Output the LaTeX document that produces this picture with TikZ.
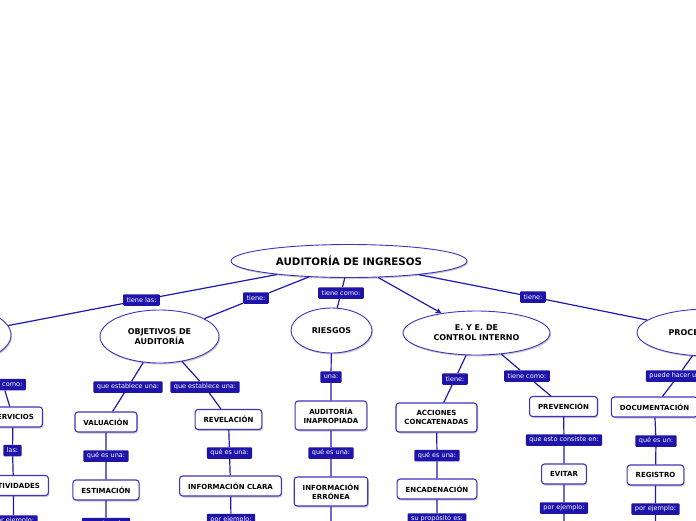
\documentclass[tikz,border=0pt]{standalone}
\usepackage{fontspec}
\setmainfont{DejaVu Sans}
\usetikzlibrary{shapes.geometric,shadows,arrows.meta}
\definecolor{lblue}{RGB}{30,20,170}
\definecolor{lineblue}{RGB}{32,24,176}
\definecolor{bordblue}{RGB}{62,52,192}
\tikzset{
  topell/.style={ellipse, draw=bordblue, line width=0.9pt, fill=white, inner sep=0pt,
    font=\fontsize{8}{10}\selectfont\bfseries, align=center,
    drop shadow={shadow xshift=1pt, shadow yshift=-1.5pt, fill=black!35, opacity=0.6}},
  cbox/.style={rectangle, rounded corners=3pt, draw=bordblue, line width=1.1pt, fill=white,
    inner xsep=8.5pt, inner ysep=0pt, minimum height=20pt,
    font=\fontsize{7}{9}\selectfont\bfseries, align=center,
    drop shadow={shadow xshift=1pt, shadow yshift=-1.5pt, fill=black!35, opacity=0.6}},
  lbl/.style={rectangle, rounded corners=1pt, fill=lblue, text=white, inner xsep=3.5pt,
    inner ysep=0pt, minimum height=11.5pt, font=\fontsize{6.5}{7}\selectfont},
  conn/.style={draw=lineblue, line width=1.2pt},
}
\begin{document}
\begin{tikzpicture}[x=1pt,y=-1pt]
\useasboundingbox (0,0) rectangle (696,520);
\clip (0,0) rectangle (696,520);
% top-level
\node[topell, minimum width=236pt, minimum height=33pt, font=\fontsize{10.3}{12}\selectfont\bfseries] (root) at (349,261) {AUDITORÍA DE INGRESOS};
\node[topell, minimum width=104pt, minimum height=54pt] (left) at (-41,335) {};
\node[topell, minimum width=119pt, minimum height=53pt] (obj) at (159.5,336.5) {OBJETIVOS DE\\AUDITORÍA};
\node[topell, minimum width=81pt, minimum height=45pt] (ries) at (331.5,330.5) {RIESGOS};
\node[topell, minimum width=147pt, minimum height=44pt] (eye) at (476.5,333) {E. Y E. DE\\CONTROL INTERNO};
\node[topell, minimum width=144pt, minimum height=47pt] (proc) at (709,332.5) {PROCEDIMIENTOS};
% level-1 labels
\node[lbl] (l1) at (141.5,300) {tiene las:};
\node[lbl] (l2) at (256,298) {tiene:};
\node[lbl] (l3) at (341,293) {tiene como:};
\node[lbl] (l5) at (533,297) {tiene:};
\draw[conn] (root) -- (l1) -- (left);
\draw[conn] (root) -- (l2) -- (obj);
\draw[conn] (root) -- (l3) -- (ries);
\draw[conn, -{Stealth[length=6pt,width=6pt]}] (root) -- (eye);
\draw[conn] (root) -- (l5) -- (proc);
% left column
\node[lbl] (a1) at (3,384.5) {tiene como:};
\node[cbox] (serv) at (13,417) {SERVICIOS};
\node[lbl] (a2) at (12.5,450.5) {las:};
\node[cbox] (act) at (13.5,485.5) {ACTIVIDADES};
\node[lbl] (a3) at (13.5,521) {por ejemplo:};
\draw[conn] (left) -- (a1) -- (serv) -- (a2) -- (act) -- (a3);
% valuacion column
\node[lbl] (b1) at (128,387) {que establece una:};
\node[cbox] (val) at (106,422) {VALUACIÓN};
\node[lbl] (b2) at (106,456) {qué es una:};
\node[cbox] (est) at (106,490) {ESTIMACIÓN};
\node[lbl] (b3) at (106,523.5) {por ejemplo:};
\draw[conn] (obj) -- (b1) -- (val) -- (b2) -- (est) -- (b3);
% revelacion column
\node[lbl] (c1) at (205,387) {que establece una:};
\node[cbox] (rev) at (228.5,419.5) {REVELACIÓN};
\node[lbl] (c2) at (229.5,453) {qué es una:};
\node[cbox] (infc) at (230.5,486) {INFORMACIÓN CLARA};
\node[lbl] (c3) at (231,519.5) {por ejemplo:};
\draw[conn] (obj) -- (c1) -- (rev) -- (c2) -- (infc) -- (c3);
% riesgos column
\node[lbl] (d1) at (331,377) {una:};
\node[cbox, minimum height=29pt] (audi) at (331,415.5) {AUDITORÍA\\INAPROPIADA};
\node[lbl] (d2) at (331,453) {qué es una:};
\node[cbox, minimum height=29pt] (infe) at (331,491.5) {INFORMACIÓN\\ERRÓNEA};
\coordinate (d3) at (331,530);
\draw[conn] (ries) -- (d1) -- (audi) -- (d2) -- (infe) -- (d3);
% acciones column
\node[lbl] (e1) at (455,379) {tiene:};
\node[cbox, minimum height=29pt] (acc) at (436.5,417.5) {ACCIONES\\CONCATENADAS};
\node[lbl] (e2) at (437,455.5) {qué es una:};
\node[cbox] (enc) at (437,489) {ENCADENACIÓN};
\node[lbl] (e3) at (437,519) {su propósito es:};
\draw[conn] (eye) -- (e1) -- (acc) -- (e2) -- (enc) -- (e3);
% prevencion column
\node[lbl] (f1) at (527,376) {tiene como:};
\node[cbox] (prev) at (563.5,406.5) {PREVENCIÓN};
\node[lbl] (f2) at (564,440) {que esto consiste en:};
\node[cbox] (evi) at (564,474) {EVITAR};
\node[lbl] (f3) at (564,508) {por ejemplo:};
\coordinate (f4) at (564,530);
\draw[conn] (eye) -- (f1) -- (prev) -- (f2) -- (evi) -- (f3) -- (f4);
% documentacion column
\node[lbl] (g1) at (678,376) {puede hacer una:};
\node[cbox] (doc) at (654.5,407) {DOCUMENTACIÓN};
\node[lbl] (g2) at (656,441) {qué es un:};
\node[cbox] (reg) at (655.5,475) {REGISTRO};
\node[lbl] (g3) at (655.5,509) {por ejemplo:};
\coordinate (g4) at (655.5,530);
\draw[conn] (proc) -- (g1) -- (doc) -- (g2) -- (reg) -- (g3) -- (g4);
\end{tikzpicture}
\end{document}
